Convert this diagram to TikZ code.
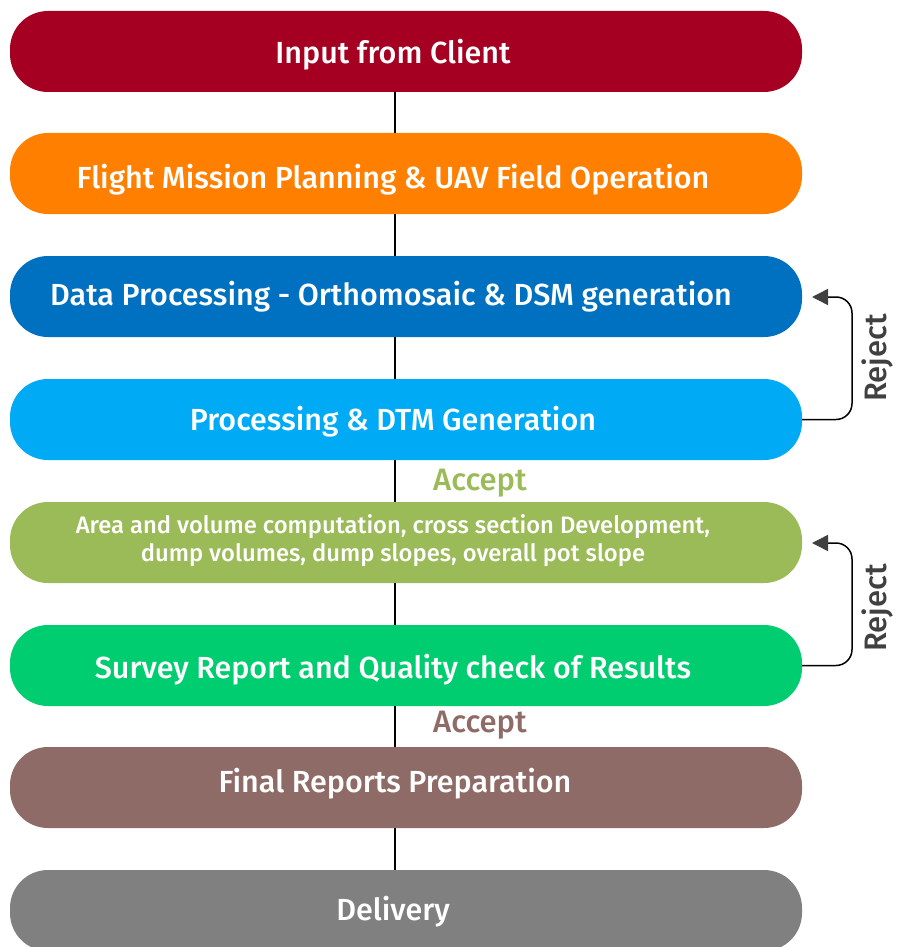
\documentclass[tikz,border=0pt]{standalone}
\usepackage{fontspec}
\IfFontExistsTF{Fira Sans Medium}{\setmainfont{Fira Sans Medium}}{\setmainfont{Fira Sans}}
\usetikzlibrary{arrows.meta}
\definecolor{cA}{HTML}{A50021}
\definecolor{cB}{HTML}{FF8000}
\definecolor{cC}{HTML}{0070C0}
\definecolor{cD}{HTML}{00AAF5}
\definecolor{cE}{HTML}{9BBB59}
\definecolor{cF}{HTML}{00CC70}
\definecolor{cG}{HTML}{8F6B68}
\definecolor{cH}{HTML}{808080}
\definecolor{dk}{HTML}{404040}
\begin{document}
\begin{tikzpicture}[x=1pt,y=-1pt,
  stagebox/.style={draw=none,fill=#1,rounded corners=38pt,minimum width=792pt,minimum height=81pt,inner sep=0pt},
  stagetext/.style={text=white,font=\fontsize{30.5}{34}\selectfont,align=center,inner sep=0pt},
  smalltext/.style={text=white,font=\fontsize{23.8}{28}\selectfont,align=center,inner sep=0pt},
  link/.style={draw=black,line width=1.3pt},
  acc/.style={font=\fontsize{31}{34}\selectfont,inner sep=0pt},
  rej/.style={draw=black,line width=1.5pt,rounded corners=16pt,-{Triangle[length=16pt,width=16pt,fill=dk,color=dk]}},
  rejtext/.style={text=dk,font=\fontsize{31}{34}\selectfont,rotate=90,inner sep=0pt}]
\useasboundingbox (0,0) rectangle (906,947);
\node[stagebox=cA] (b1) at (406,51.5) {};
\node[stagebox=cB] (b2) at (406,173.5) {};
\node[stagebox=cC] (b3) at (406,296.5) {};
\node[stagebox=cD] (b4) at (406,419.5) {};
\node[stagebox=cE] (b5) at (406,542.5) {};
\node[stagebox=cF] (b6) at (406,665.5) {};
\node[stagebox=cG] (b7) at (406,787.5) {};
\node[stagebox=cH] (b8) at (406,910.5) {};
\draw[link] (395,92) -- (395,133);
\draw[link] (395,214) -- (395,256);
\draw[link] (395,337) -- (395,379);
\draw[link] (395,460) -- (395,502);
\draw[link] (395,583) -- (395,625);
\draw[link] (395,706) -- (395,747);
\draw[link] (395,828) -- (395,870);
\node[stagetext] (t1) at (393,55) {Input from Client};
\node[stagetext] (t2) at (393,180) {Flight Mission Planning \& UAV Field Operation};
\node[stagetext] (t3) at (391,297) {Data Processing - Orthomosaic \& DSM generation};
\node[stagetext] (t4) at (393,422) {Processing \& DTM Generation};
\node[smalltext] (t5) at (393,541) {Area and volume computation, cross section Development,\\dump volumes, dump slopes, overall pot slope};
\node[stagetext] (t6) at (393,670) {Survey Report and Quality check of Results};
\node[stagetext] (t7) at (395,784) {Final Reports Preparation};
\node[stagetext] (t8) at (393,912) {Delivery};
\node[acc,text=cE] (a1) at (480,483) {Accept};
\node[acc,text=cG] (a2) at (480,725) {Accept};
\draw[rej] (b4.east) -- (852,419.5) -- (852,297) -- (812,297);
\draw[rej] (b6.east) -- (852,665.5) -- (852,543) -- (812,543);
\node[rejtext] (r1) at (877,358) {Reject};
\node[rejtext] (r2) at (877,608) {Reject};
\end{tikzpicture}
\end{document}
